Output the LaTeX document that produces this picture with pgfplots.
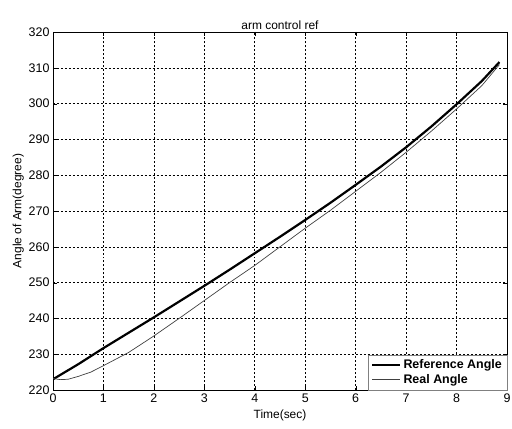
\documentclass[border=0pt]{standalone}
\usepackage{pgfplots}
\pgfplotsset{compat=1.18}
\usepackage{fontspec}
\setmainfont{Liberation Sans}
\begin{document}
\begin{tikzpicture}[x=1bp,y=1bp]
\path[use as bounding box] (-53,-38) rectangle (459,390);
\begin{axis}[
  at={(0,0)}, anchor=south west,
  scale only axis, width=454bp, height=358bp,
  xmin=0, xmax=9, ymin=220, ymax=320,
  xtick={0,1,...,9}, ytick={220,230,...,320},
  grid=major,
  major grid style={black, line width=0.6pt, dash pattern=on 2pt off 2pt},
  axis line style={black, line width=0.8pt},
  tick style={black},
  tick align=inside,
  font=\fontsize{12}{14}\selectfont,
  /pgf/number format/assume math mode=true,
  ticklabel style={font=\fontsize{12.5}{14}\selectfont},
  title={arm control ref},
  title style={font=\fontsize{12}{14}\selectfont, yshift=-7bp},
  xlabel={Time(sec)},
  ylabel={Angle of Arm(degree)},
  xlabel style={yshift=-1bp},
  ylabel style={yshift=-2bp},
  legend style={at={(1,0)}, anchor=south east, draw=gray, line width=0.5pt, fill=white, font=\fontsize{12.5}{14}\selectfont\bfseries, inner xsep=3pt, inner ysep=3pt, row sep=0pt, legend cell align=left},
  legend image code/.code={\draw[#1] (0bp,0bp) -- (28bp,0bp);},
]
\addplot[black, line width=2.2pt] coordinates {
(0,223.0) (0.5,227.2) (1,231.7) (1.5,236.0) (2,240.3) (2.5,244.7) (3,249.1) (3.5,253.6) (4,258.2) (4.5,262.8) (5,267.5) (5.5,272.3) (6,277.3) (6.5,282.4) (7,287.8) (7.5,293.6) (8,299.8) (8.5,306.3) (8.85,311.6)
};
\addlegendentry{Reference Angle}
\addplot[black!75, line width=0.7pt] coordinates {
(0,223.2) (0.15,222.9) (0.3,223.0) (0.5,223.8) (0.75,225.0) (1,226.8) (1.5,230.5) (2,235.1) (2.5,240.0) (3,245.0) (3.5,250.0) (4,254.8) (4.5,260.0) (5,265.2) (5.5,270.2) (6,275.5) (6.5,280.8) (7,286.4) (7.5,292.3) (8,298.5) (8.5,305.0) (8.85,310.9)
};
\addlegendentry{Real Angle}
\end{axis}
\end{tikzpicture}
\end{document}
